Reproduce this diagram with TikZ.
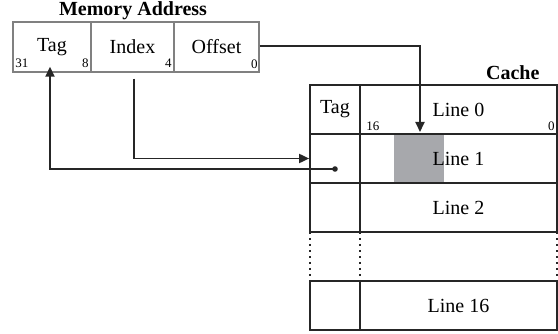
\documentclass[tikz,border=0pt]{standalone}
\usepackage{fontspec}
\setmainfont{Liberation Serif}
\usetikzlibrary{arrows.meta}

\begin{document}
\begin{tikzpicture}[x=1pt, y=-1pt,
	txt/.style={font=\fontsize{20}{24}\selectfont},
	bitnum/.style={font=\fontsize{13}{15}\selectfont, inner sep=0pt},
	memcell/.style={txt, draw=black!50, line width=1.4pt, minimum height=50pt, inner sep=0pt},
	cachecell/.style={txt, draw=black!85, line width=1.7pt, minimum height=49pt, inner sep=0pt},
	gapline/.style={draw=black!85, line width=1.8pt, dash pattern=on 2.5pt off 3.5pt},
	conn/.style={draw=black!85, line width=1.8pt, -{Triangle[length=10pt, width=9pt]}}]
	\useasboundingbox (0,0) rectangle (558,334);

	\node[txt, font=\fontsize{20}{24}\selectfont\bfseries] (memtitle) at (133,11) {Memory Address};
	\node[memcell, minimum width=78pt] (mtag) at (52,47) {Tag};
	\node[memcell, minimum width=83pt] (mindex) at (132.5,47) {Index};
	\node[memcell, minimum width=85pt] (moffset) at (216.5,47) {Offset};
	\node[bitnum, anchor=base west] (b31) at ([shift={(3,-5.5)}]mtag.south west) {31};
	\node[bitnum, anchor=base east] (b8) at ([shift={(-3,-5.5)}]mtag.south east) {8};
	\node[bitnum, anchor=base east] (b4) at ([shift={(-3,-5)}]mindex.south east) {4};
	\node[bitnum, anchor=base east] (b0) at ([shift={(-2,-4)}]moffset.south east) {0};

	\node[txt, font=\fontsize{20}{24}\selectfont\bfseries, anchor=east] (cachetitle) at (543,73) {Cache};
	\fill[fill={rgb,255:red,167;green,168;blue,172}] (394,134) rectangle (444,183);

	\node[cachecell, minimum width=50pt] (ctag0) at (335,109.5) {Tag};
	\node[cachecell, minimum width=197pt] (cline0) at (458.5,109.5) {Line 0};
	\node[cachecell, minimum width=50pt] (ctag1) at (335,158.5) {};
	\node[cachecell, minimum width=197pt] (cline1) at (458.5,158.5) {Line 1};
	\node[cachecell, minimum width=50pt] (ctag2) at (335,207.5) {};
	\node[cachecell, minimum width=197pt] (cline2) at (458.5,207.5) {Line 2};
	\node[minimum width=50pt, minimum height=49pt, inner sep=0pt] (ctag3) at (335,256.5) {};
	\node[minimum width=197pt, minimum height=49pt, inner sep=0pt] (cline3) at (458.5,256.5) {};
	\node[cachecell, minimum width=50pt] (ctag4) at (335,305.5) {};
	\node[cachecell, minimum width=197pt] (cline4) at (458.5,305.5) {Line 16};
	\node[bitnum, anchor=base west] (b16) at ([shift={(7,-4)}]cline0.south west) {16};
	\node[bitnum, anchor=base east] (bc0) at ([shift={(-3,-4)}]cline0.south east) {0};

	\draw[gapline] (ctag3.north west) -- (ctag3.south west);
	\draw[gapline] (ctag3.north east) -- (ctag3.south east);
	\draw[gapline] (cline3.north east) -- (cline3.south east);

	\coordinate (offtip) at (420,132);
	\coordinate (tagdot) at (335,169);
	\draw[conn] ([yshift=1pt]moffset.east) -| (offtip);
	\draw[conn, shorten <=6pt] ([xshift=1.5pt]mindex.south) |- (ctag1.west);
	\draw[conn] (tagdot) -| ([shift={(-2pt,6pt)}]mtag.south);
	\fill[black!85] (tagdot) circle (2.8pt);
\end{tikzpicture}
\end{document}
